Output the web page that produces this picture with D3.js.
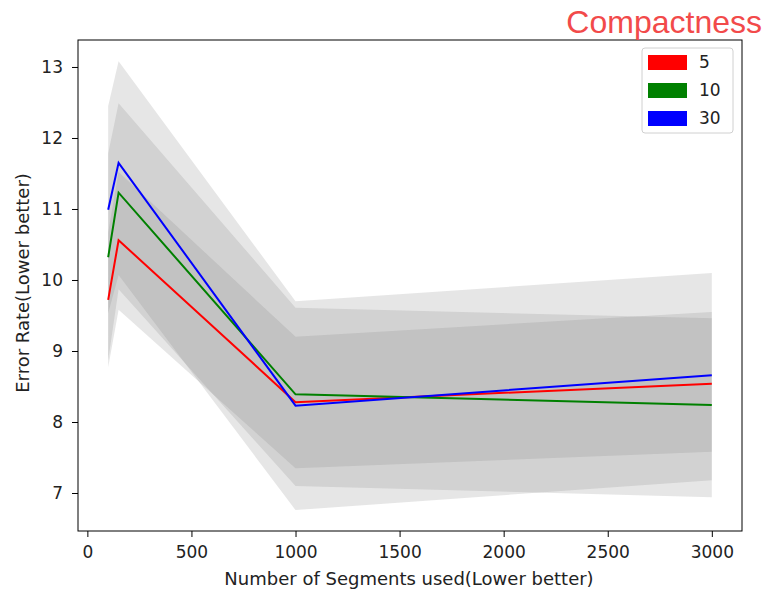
<!doctype html>
<html lang="en">
<head>
    <meta charset="utf-8">
    <title>Compactness</title>
    <script src="https://d3js.org/d3.v7.min.js"></script>
    <style>
        body { margin: 0; background: white; }
        svg text { font-family: 'DejaVu Sans', sans-serif; fill: #222; }
        .tick line, .domain { stroke: #000; }
    </style>
</head>
<body>
<div class="home"></div>
<script>
    // data
    const segments = [100, 150, 1000, 3000];
    const compactness = ["5", "10", "30"];
    const colors = ["#ff0000", "#008000", "#0000ff"];
    const mean5 = [9.72, 10.56, 8.28, 8.54];
    const mean10 = [10.32, 11.23, 8.39, 8.24];
    const mean30 = [10.99, 11.65, 8.23, 8.66];
    const lower5 = [8.77, 9.58, 7.35, 7.58];
    const upper5 = [10.67, 11.52, 9.20, 9.55];
    const lower10 = [8.87, 9.87, 7.10, 6.94];
    const upper10 = [11.78, 12.49, 9.61, 9.46];
    const lower30 = [9.53, 10.07, 6.76, 7.18];
    const upper30 = [12.45, 13.08, 9.70, 10.10];
    const xTicks = [0, 500, 1000, 1500, 2000, 2500, 3000];
    const yTicks = [7, 8, 9, 10, 11, 12, 13];

    const means = [mean5, mean10, mean30];
    const lowers = [lower5, lower10, lower30];
    const uppers = [upper5, upper10, upper30];

    const width = 765, height = 592;
    const margin = {left: 78, right: 23, top: 40, bottom: 61};

    const svg = d3.select(".home").append("svg")
        .attr("width", width)
        .attr("height", height);

    const x = d3.scaleLinear().domain([-45, 3145]).range([margin.left, width - margin.right]);
    const y = d3.scaleLinear().domain([6.465, 13.38]).range([height - margin.bottom, margin.top]);

    // std bands
    const area = d3.area()
        .x((d, i) => x(segments[i]))
        .y0(d => y(d[0]))
        .y1(d => y(d[1]));

    svg.append("g").selectAll("path")
        .data(compactness.map((c, k) => lowers[k].map((lo, i) => [lo, uppers[k][i]])))
        .enter()
        .append("path")
        .attr("d", area)
        .style("fill", "gray")
        .style("fill-opacity", 0.2);

    // mean lines
    const line = d3.line()
        .x((d, i) => x(segments[i]))
        .y(d => y(d));

    svg.append("g").selectAll("path")
        .data(means)
        .enter()
        .append("path")
        .attr("d", line)
        .style("fill", "none")
        .style("stroke", (d, i) => colors[i])
        .style("stroke-width", 2);

    // axes
    svg.append("g")
        .attr("transform", `translate(0,${height - margin.bottom})`)
        .call(d3.axisBottom(x).tickValues(xTicks).tickSize(6).tickPadding(9).tickFormat(d3.format("d")))
        .call(g => g.select(".domain").remove());

    svg.append("g")
        .attr("transform", `translate(${margin.left},0)`)
        .call(d3.axisLeft(y).tickValues(yTicks).tickSize(6).tickPadding(9).tickFormat(d3.format("d")))
        .call(g => g.select(".domain").remove());

    svg.selectAll(".tick text").style("font-family", "'DejaVu Sans', sans-serif").style("font-size", "17px").style("fill", "#222");

    // frame
    svg.append("rect")
        .attr("x", margin.left)
        .attr("y", margin.top)
        .attr("width", width - margin.left - margin.right)
        .attr("height", height - margin.top - margin.bottom)
        .style("fill", "none")
        .style("stroke", "#000")
        .style("stroke-width", 1);

    // axis labels
    svg.append("text")
        .attr("x", 409)
        .attr("y", 585)
        .attr("text-anchor", "middle")
        .style("font-size", "18px")
        .text("Number of Segments used(Lower better)");

    svg.append("text")
        .attr("transform", "translate(29,283) rotate(-90)")
        .attr("text-anchor", "middle")
        .style("font-size", "18px")
        .text("Error Rate(Lower better)");

    // title
    svg.append("text")
        .attr("x", 762)
        .attr("y", 33)
        .attr("text-anchor", "end")
        .style("font-family", "'Liberation Sans', Arial, sans-serif")
        .style("font-size", "32px")
        .style("fill", "#f24a4a")
        .text("Compactness");

    // legend
    const legend = svg.append("g").attr("transform", "translate(642,48)");
    legend.append("rect")
        .attr("width", 91).attr("height", 85)
        .attr("rx", 3)
        .style("fill", "white").style("fill-opacity", 0.8)
        .style("stroke", "#d0d0d0");

    const item = legend.selectAll(".item")
        .data(compactness)
        .enter()
        .append("g")
        .attr("transform", (d, i) => `translate(0,${14 + i * 28})`);

    item.append("rect")
        .attr("x", 6).attr("y", -7)
        .attr("width", 39).attr("height", 15)
        .style("fill", (d, i) => colors[i]);

    item.append("text")
        .attr("x", 57).attr("y", 6)
        .style("font-size", "17px")
        .text(d => d);
</script>
</body>
</html>
